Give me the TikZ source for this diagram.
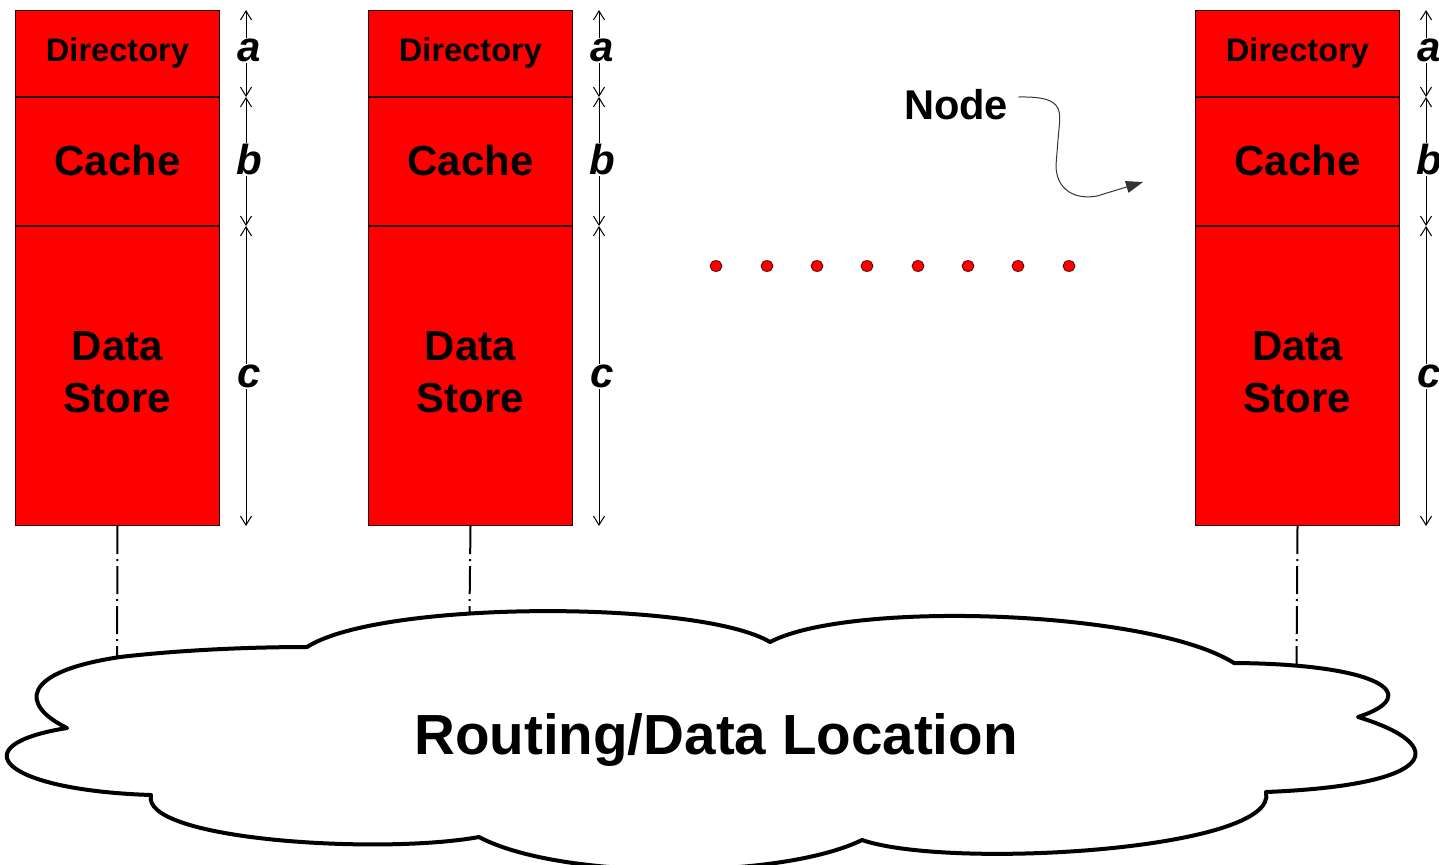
\documentclass[tikz,border=0pt]{standalone}
\usepackage{fontspec}
\setmainfont{Liberation Sans}
\usetikzlibrary{arrows.meta,shapes.geometric}

\tikzset{
  part/.style={draw=black!85!red, line width=0.5pt, fill=red, minimum width=102pt,
    inner sep=0pt, align=center, font=\bfseries\fontsize{21}{26}\selectfont},
  dirpart/.style={part, minimum height=43pt, font=\bfseries\fontsize{16.3}{19}\selectfont},
  cachepart/.style={part, minimum height=64pt},
  storepart/.style={part, minimum height=149.5pt},
  dim/.style={line width=0.5pt, {Straight Barb[length=4.5pt,width=5.5pt]}-{Straight Barb[length=4.5pt,width=5.5pt]}},
  dimlbl/.style={fill=white, inner sep=0.5pt, xshift=1.5pt,
    font=\bfseries\itshape\fontsize{21}{25}\selectfont},
  reddot/.style={ellipse, draw=black!70!red, line width=0.4pt, fill=red, minimum width=6pt, minimum height=5.4pt, inner sep=0pt},
  dashdot/.style={line width=1pt, dash pattern=on 14pt off 2.5pt on 1pt off 2.5pt},
  pointer/.style={line width=0.5pt, -{Triangle[length=8.5pt,width=6pt]}},
  cloudline/.style={line width=2pt, fill=white, line join=round}
}

\begin{document}
\begin{tikzpicture}[x=0.5pt,y=-0.5pt]
\useasboundingbox (0,0) rectangle (1439,864);

% the three storage nodes with their size brackets
\foreach \i/\x in {1/15, 2/368, 3/1195} {
  \node[dirpart, anchor=north west] (dir\i) at (\x,10) {\raisebox{-1pt}{Directory}};
  \node[cachepart, anchor=north] (cache\i) at (dir\i.south) {\raisebox{1.5pt}{Cache}};
  \node[storepart, anchor=north] (store\i) at (cache\i.south)
    {\raisebox{1.5pt}{\begin{tabular}{@{}c@{}}Data\\Store\end{tabular}}};
  \coordinate (ta\i) at ([xshift=13pt]dir\i.north east);
  \coordinate (tb\i) at ([xshift=13pt]dir\i.south east);
  \coordinate (tc\i) at ([xshift=13pt]cache\i.south east);
  \coordinate (td\i) at ([xshift=13pt]store\i.south east);
  \draw[dim] (ta\i) -- (tb\i) node[midway, dimlbl, yshift=1.5pt] {a};
  \draw[dim] (tb\i) -- (tc\i) node[midway, dimlbl, yshift=1pt] {b};
  \draw[dim] (tc\i) -- (td\i) node[midway, dimlbl] {c};
}

% links from each node down to the routing layer
\coordinate (lk1) at (117,665);
\coordinate (lk2) at (469.5,612);
\coordinate (lk3) at (1296.5,665);
\foreach \i in {1,2,3} {
  \draw[dashdot] (store\i.south) -- (lk\i);
}

% row of dots for the nodes in between
\foreach \k/\x in {1/716, 2/767, 3/817, 4/867, 5/918, 6/968, 7/1018, 8/1069} {
  \node[reddot] (dot\k) at (\x,266) {};
}

% "Node" callout
\node[font=\bfseries\fontsize{20.8}{24}\selectfont, inner sep=0pt] (nodelbl) at (956,105) {Node};
\coordinate (nodetip) at (1143,182);
\draw[pointer, draw=black!80] ([xshift=5pt,yshift=4pt]nodelbl.east)
  .. controls (1068,96) and (1060,112) .. (1058,140)
  -- (1056,165)
  .. controls (1056,190) and (1075,200) .. (1097,196)
  -- (nodetip);

% routing cloud
\draw[cloudline] (307,647)
  .. controls (380,600) and (700,600) .. (770,642)
  .. controls (850,600) and (1150,610) .. (1234,663)
  .. controls (1380,664) and (1425,695) .. (1358,717)
  .. controls (1450,745) and (1440,785) .. (1266,792)
  .. controls (1280,850) and (950,870) .. (862,840)
  .. controls (780,880) and (560,880) .. (479,837)
  .. controls (380,855) and (140,840) .. (151,795)
  .. controls (0,790) and (-40,745) .. (67,728)
  .. controls (20,705) and (20,672) .. (120,657)
  .. controls (180,650) and (250,647) .. (307,647) -- cycle;
\node[font=\bfseries\fontsize{28.3}{32}\selectfont, inner sep=0pt] (net) at (716,740) {Routing/Data Location};
\end{tikzpicture}
\end{document}
